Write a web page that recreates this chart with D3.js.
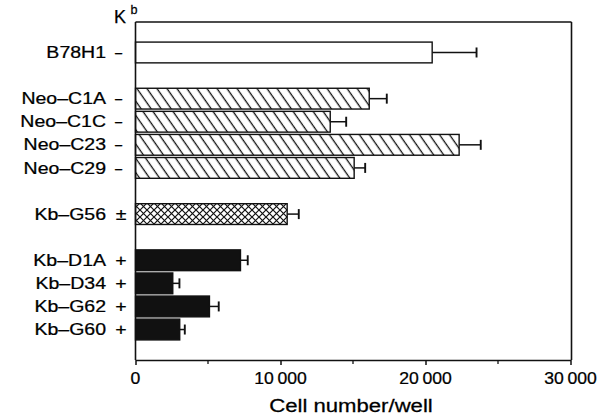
<!DOCTYPE html>
<html lang="en">
<head>
    <meta charset="UTF-8">
    <title>Cell number per well</title>
    <script src="https://d3js.org/d3.v7.min.js"></script>
    <style>
        body {
            margin: 0;
            background: #fff;
        }

        svg text {
            font-family: "Liberation Sans", Arial, sans-serif;
            fill: #000;
            stroke: #000;
            stroke-width: 0.25px;
        }

        .frame line {
            stroke: #111;
            stroke-width: 1.6;
        }
    </style>
</head>
<body>
    <svg id="chart" width="612" height="420"></svg>

    <script>
        // cell lines, top to bottom
        const cellLines = ["B78H1", "Neo\u2013C1A", "Neo\u2013C1C", "Neo\u2013C23", "Neo\u2013C29",
            "Kb\u2013G56", "Kb\u2013D1A", "Kb\u2013D34", "Kb\u2013G62", "Kb\u2013G60"];
        // row slot of each line (empty slots give the gaps between groups)
        const rowSlots = [0, 2, 3, 4, 5, 7, 9, 10, 11, 12];
        const kbMarks = ["\u2013", "\u2013", "\u2013", "\u2013", "\u2013", "\u00b1", "+", "+", "+", "+"];
        const cellCounts = [20460, 16120, 13430, 22320, 15080, 10460, 7240, 2570, 5100, 3050];
        const cellErrors = [3060, 1210, 1100, 1490, 760, 800, 500, 460, 640, 350];
        const fillKinds = ["open", "hatch", "hatch", "hatch", "hatch", "cross", "solid", "solid", "solid", "solid"];
        const xTicks = [0, 10000, 20000, 30000];
        const xMinorTicks = [5000, 15000, 25000];

        const plotLeft = 135.5, plotRight = 570.5, plotTop = 22, plotBottom = 360;

        const svg = d3.select("#chart");

        const x = d3.scaleLinear().domain([0, 30000]).range([plotLeft, plotRight]);
        const y = d3.scaleBand()
            .domain(d3.range(13))
            .range([plotTop, plotBottom])
            .paddingInner(0.1)
            .paddingOuter(0.87);

        // fill patterns
        const defs = svg.append("defs");
        const hatch = defs.append("pattern")
            .attr("id", "hatch")
            .attr("patternUnits", "userSpaceOnUse")
            .attr("width", 8.2)
            .attr("height", 10)
            .attr("patternTransform", "rotate(-35)");
        hatch.append("rect").attr("width", 8.2).attr("height", 10).attr("fill", "#fff");
        hatch.append("line")
            .attr("x1", 4).attr("y1", -1).attr("x2", 4).attr("y2", 11)
            .attr("stroke", "#111").attr("stroke-width", 1.3);

        const cross = defs.append("pattern")
            .attr("id", "cross")
            .attr("patternUnits", "userSpaceOnUse")
            .attr("width", 7)
            .attr("height", 7);
        cross.append("rect").attr("width", 7).attr("height", 7).attr("fill", "#fff");
        cross.append("path")
            .attr("d", "M-1,-1L8,8M-1,8L8,-1")
            .attr("stroke", "#111").attr("stroke-width", 1.2);

        const fillFor = {
            open: "#fff",
            hatch: "url(#hatch)",
            cross: "url(#cross)",
            solid: "#111"
        };

        // horizontally widened text, like the original typeface
        function addText(px, py, str, size, anchor, sx) {
            return svg.append("text")
                .attr("transform", `translate(${px},${py}) scale(${sx},1)`)
                .attr("text-anchor", anchor)
                .style("font-size", size + "px")
                .text(str);
        }

        const rows = cellLines.map((name, i) => ({
            name: name,
            slot: rowSlots[i],
            mark: kbMarks[i],
            value: cellCounts[i],
            err: cellErrors[i],
            kind: fillKinds[i]
        }));

        // error bars (drawn first so the bar edge sits on top)
        const errG = svg.append("g")
            .attr("stroke", "#111")
            .attr("stroke-width", 1.5);
        rows.forEach(d => {
            const cy = y(d.slot) + y.bandwidth() / 2;
            errG.append("line")
                .attr("x1", x(d.value)).attr("x2", x(d.value + d.err))
                .attr("y1", cy).attr("y2", cy);
            errG.append("line")
                .attr("x1", x(d.value + d.err)).attr("x2", x(d.value + d.err))
                .attr("y1", cy - 5).attr("y2", cy + 5)
                .attr("stroke-width", 1.9);
        });

        // bars
        svg.append("g")
            .selectAll("rect")
            .data(rows)
            .join("rect")
            .attr("x", x(0))
            .attr("y", d => y(d.slot))
            .attr("width", d => x(d.value) - x(0))
            .attr("height", y.bandwidth())
            .attr("fill", d => fillFor[d.kind])
            .attr("stroke", "#111")
            .attr("stroke-width", 1.4);

        // frame
        const frame = svg.append("g").attr("class", "frame");
        frame.append("line").attr("x1", plotLeft).attr("x2", plotLeft).attr("y1", plotTop).attr("y2", plotBottom);
        frame.append("line").attr("x1", plotLeft).attr("x2", plotRight + 1).attr("y1", plotTop).attr("y2", plotTop);
        frame.append("line").attr("x1", plotRight + 1).attr("x2", plotRight + 1).attr("y1", plotTop).attr("y2", plotBottom);

        // x axis
        const xAxis = svg.append("g")
            .attr("transform", `translate(0,${plotBottom})`)
            .call(d3.axisBottom(x).tickValues(xTicks).tickSize(5).tickSizeOuter(0).tickFormat(""));
        xAxis.select(".domain").attr("stroke", "#111").attr("stroke-width", 1.6);
        xAxis.selectAll(".tick line").attr("stroke", "#111").attr("stroke-width", 1.5);

        svg.append("g")
            .selectAll("line")
            .data(xMinorTicks)
            .join("line")
            .attr("x1", d => x(d)).attr("x2", d => x(d))
            .attr("y1", plotBottom).attr("y2", plotBottom + 4)
            .attr("stroke", "#111").attr("stroke-width", 1.3);

        const fmt = v => v === 0 ? "0" : d3.format(",")(v).replace(",", "\u2009");
        xTicks.forEach(v => addText(x(v), 384, fmt(v), 16, "middle", 1.1));

        addText(351, 411.5, "Cell number/well", 18, "middle", 1.23);

        // row labels and K^b column
        rows.forEach(d => {
            const cy = y(d.slot) + y.bandwidth() / 2;
            addText(106, cy + 5.6, d.name, 16, "end", 1.22);
            if (d.mark === "+" || d.mark === "\u00b1") {
                addText(121, cy + 5.6, d.mark, 16, "middle", 1.22);
            } else {
                addText(118.5, cy + 5.6, d.mark, 16, "middle", 0.8);
            }
        });

        addText(120, 23, "K", 18, "middle", 1);
        addText(134, 14, "b", 12, "middle", 1.05);
    </script>
</body>
</html>
